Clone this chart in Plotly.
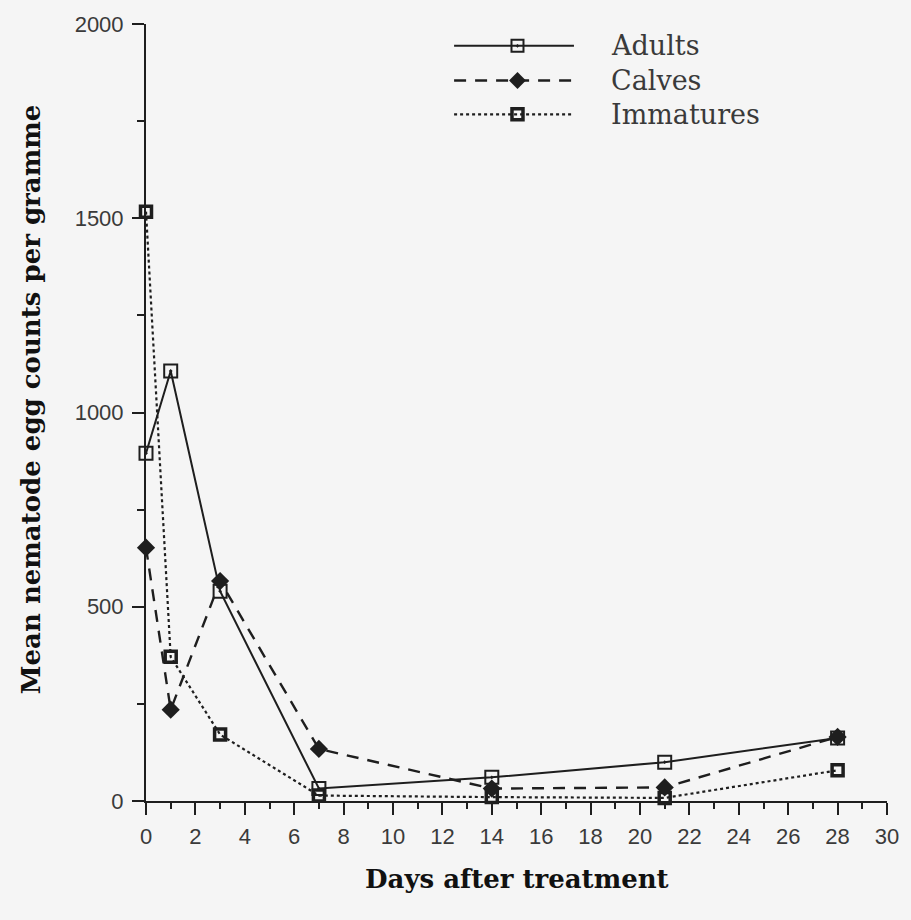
import plotly.graph_objects as go

# Days after treatment at which faecal samples were taken
days = [0, 1, 3, 7, 14, 21, 28]

# Mean nematode egg counts per gramme for each age group
adults = [895, 1107, 540, 32, 61, 100, 162]
calves = [652, 235, 566, 134, 32, 35, 165]
immatures = [1517, 371, 171, 14, 10, 8, 79]

series_names = ["Adults", "Calves", "Immatures"]

x_ticks = list(range(0, 31, 2))
y_ticks = [0, 500, 1000, 1500, 2000]

INK = "#1e1e1e"
BG = "#f5f5f5"

fig = go.Figure()

# data series
fig.add_trace(go.Scatter(
    x=days, y=adults, name=series_names[0], mode="lines+markers",
    line=dict(color=INK, width=2),
    marker=dict(symbol="square-open-dot", size=13, color=INK,
                line=dict(width=2, color=INK)),
    cliponaxis=False, showlegend=False))
fig.add_trace(go.Scatter(
    x=days, y=immatures, name=series_names[2], mode="lines+markers",
    line=dict(color=INK, width=2.2, dash="dot"),
    marker=dict(symbol="square-open", size=11, color=INK,
                line=dict(width=3.5, color=INK)),
    cliponaxis=False, showlegend=False))
fig.add_trace(go.Scatter(
    x=days, y=calves, name=series_names[1], mode="lines+markers",
    line=dict(color=INK, width=2.4, dash="12px,9px"),
    marker=dict(symbol="diamond", size=14, color=INK,
                line=dict(width=0)),
    cliponaxis=False, showlegend=False))

# hand-drawn legend on a pixel-space overlay axis
L_X0, L_X1, L_MX = 457, 578, 521
rows = [(40, "solid", "square-open-dot", 12, 2, 2),
        (75, "12px,9px", "diamond", 13, 0, 2.4),
        (109, "dot", "square-open", 11, 3.5, 2.2)]
for (ly, dash, sym, size, lw, width), name in zip(rows, series_names):
    fig.add_trace(go.Scatter(
        x=[L_X0, L_X1], y=[ly, ly], mode="lines", xaxis="x2", yaxis="y2",
        line=dict(color=INK, width=width, dash=dash),
        showlegend=False, hoverinfo="skip"))
    fig.add_trace(go.Scatter(
        x=[L_MX], y=[ly], mode="markers", xaxis="x2", yaxis="y2",
        marker=dict(symbol=sym, size=size, color=INK,
                    line=dict(width=lw, color=INK)),
        showlegend=False, hoverinfo="skip", cliponaxis=False))
    fig.add_annotation(x=613, y=ly, xref="x2", yref="y2", text=name,
                       showarrow=False, xanchor="left", yanchor="middle",
                       font=dict(family="DejaVu Serif", size=27, color="#3a3a3a"))

fig.update_layout(
    width=911, height=920,
    margin=dict(l=146, r=17, t=18, b=119),
    paper_bgcolor=BG, plot_bgcolor=BG,
    showlegend=False,
    xaxis=dict(
        range=[0, 30], tickvals=x_ticks, ticktext=[str(v) for v in x_ticks],
        showline=True, linecolor=INK, linewidth=2, mirror=False,
        ticks="outside", ticklen=12, tickwidth=2, tickcolor=INK,
        minor=dict(dtick=1, ticks="outside", ticklen=6, tickwidth=2, tickcolor=INK),
        showgrid=False, zeroline=False,
        tickfont=dict(family="Liberation Sans", size=22, color="#3a3a3a"),
        ticklabelstandoff=3,
    ),
    yaxis=dict(
        range=[0, 2000], tickvals=y_ticks, ticktext=[str(v) for v in y_ticks],
        showline=True, linecolor=INK, linewidth=2,
        ticks="outside", ticklen=12, tickwidth=2, tickcolor=INK,
        minor=dict(dtick=250, ticks="outside", ticklen=7, tickwidth=2, tickcolor=INK),
        showgrid=False, zeroline=False,
        tickfont=dict(family="Liberation Sans", size=22, color="#3a3a3a"),
        ticklabelstandoff=4,
    ),
    xaxis2=dict(range=[146, 894], overlaying="x", visible=False, fixedrange=True),
    yaxis2=dict(range=[801, 18], overlaying="y", visible=False, fixedrange=True),
    annotations=list(fig.layout.annotations) + [
        dict(text="<b>Mean nematode egg counts per gramme</b>", xref="paper", yref="paper",
             x=-0.155, y=0.516, textangle=-90, showarrow=False,
             xanchor="center", yanchor="middle",
             font=dict(family="DejaVu Serif", size=26, color="#111")),
        dict(text="<b>Days after treatment</b>", xref="paper", yref="paper",
             x=0.5, y=-0.1, showarrow=False, xanchor="center", yanchor="middle",
             font=dict(family="DejaVu Serif", size=26, color="#111")),
    ],
)

fig.write_html("out.html")
